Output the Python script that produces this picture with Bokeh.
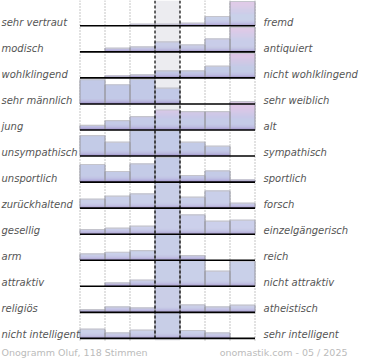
from bokeh.plotting import figure
from bokeh.models import Range1d
from bokeh.core.properties import value
from bokeh.embed import file_html
from bokeh.resources import INLINE

left_labels = ["sehr vertraut", "modisch", "wohlklingend", "sehr männlich", " jung",
               "unsympathisch", "unsportlich", "zurückhaltend", "gesellig", "arm",
               "attraktiv", "religiös", "nicht intelligent"]
right_labels = ["fremd", "antiquiert", "nicht wohlklingend", "sehr weiblich", "alt",
                "sympathisch", "sportlich", "forsch", "einzelgängerisch", "reich",
                "nicht attraktiv", "atheistisch", "sehr intelligent"]

row_vertraut = [0, 0, 1.6, 1.6, 2.6, 9.3, 24.3]
row_modisch = [0, 3.7, 5.0, 10.0, 7.0, 13.0, 24.7]
row_wohlklingend = [0, 2.1, 3.1, 7.1, 7.1, 11.7, 24.7]
row_maennlich = [24.2, 19.2, 24.8, 15.8, 0, 0, 0]
row_jung = [4.7, 9.3, 13.3, 20.0, 18.3, 18.3, 28.3]
row_sympathisch = [20.5, 13.9, 25.5, 25.5, 13.9, 9.9, 0]
row_sportlich = [17.6, 10.6, 18.3, 25.0, 6.6, 11.3, 2.3]
row_forsch = [9.0, 12.0, 14.3, 26.0, 11.0, 17.3, 5.0]
row_gesellig = [4.7, 6.0, 8.0, 26.0, 19.4, 13.0, 14.0]
row_arm = [6.4, 8.0, 9.7, 26.0, 4.7, 0, 0]
row_attraktiv = [0, 3.5, 6.1, 26.0, 26.0, 15.1, 25.1]
row_religioes = [2.8, 5.5, 4.5, 26.0, 7.5, 5.5, 7.2]
row_intelligent = [9.2, 5.6, 8.2, 26.0, 7.9, 5.6, 0]

rows = [row_vertraut, row_modisch, row_wohlklingend, row_maennlich, row_jung,
        row_sympathisch, row_sportlich, row_forsch, row_gesellig, row_arm,
        row_attraktiv, row_religioes, row_intelligent]

footer_left = "Onogramm Oluf, 118 Stimmen"
footer_right = "onomastik.com - 05 / 2025"

# ---- layout (pixels) ----
W, H = 370, 360
LEFT_PX = 79.5
COL_PX = 25.0
TOP_PX = 25.3
ROW = 26.05
NCOL = 7
pink_rows = {0, 1, 2, 4}

p = figure(width=W, height=H,
           x_range=Range1d(-LEFT_PX / COL_PX, (W - LEFT_PX) / COL_PX),
           y_range=Range1d(TOP_PX - H, TOP_PX),
           output_backend="svg", toolbar_location=None, min_border=0,
           outline_line_color=None, background_fill_color="white",
           border_fill_color="white")
p.axis.visible = False
p.grid.visible = False

nrows = len(rows)
y_top = TOP_PX
y_bot = -ROW * (nrows - 1) - 2

# middle column shading
p.quad(left=[3], right=[4], top=[y_top], bottom=[y_bot],
       fill_color="#ececf0", line_color=None)

# dotted separators
dx = [0, 1, 2, 5, 6, 7]
p.segment(x0=dx, x1=dx, y0=[y_top] * len(dx), y1=[y_bot] * len(dx),
          line_color="#8a8a8a", line_dash="1 2", line_width=1)


def hex2rgb(h):
    h = h.lstrip("#")
    return tuple(int(h[i:i + 2], 16) for i in (0, 2, 4))


def mix(a, b, t):
    a, b = hex2rgb(a), hex2rgb(b)
    return "#%02x%02x%02x" % tuple(int(round(a[i] + (b[i] - a[i]) * t)) for i in range(3))


def grad(h, pink):
    if h < 3:
        return mix("#9c8cc6", "#bdbde2", h / 3)
    if h < 6:
        return mix("#bdbde2", "#c5cbe8", (h - 3) / 3)
    if pink and h > 11:
        return mix("#c5cbe8", "#dec6e6", min(1.0, (h - 11) / 12))
    return "#c5cbe8"


sl, sr, sb, st, sc = [], [], [], [], []
ex0, ex1, ey0, ey1 = [], [], [], []
tx0, tx1, ty = [], [], []
for r, vals in enumerate(rows):
    base = -ROW * r
    for c, v in enumerate(vals):
        if v <= 0:
            continue
        k = 0.0
        while k < v:
            t = min(k + 1.0, v)
            sl.append(c); sr.append(c + 1); sb.append(base + k); st.append(base + t)
            sc.append(grad((k + t) / 2, r in pink_rows))
            k = t
        ex0 += [c, c + 1]; ex1 += [c, c + 1]
        ey0 += [base, base]; ey1 += [base + v, base + v]
        tx0.append(c); tx1.append(c + 1); ty.append(base + v)

p.quad(left=sl, right=sr, bottom=sb, top=st, fill_color=sc, line_color=sc, line_width=0.3)
p.segment(x0=tx0, x1=tx1, y0=ty, y1=ty, line_color="#c4c4cc", line_width=1.2)
p.segment(x0=ex0, x1=ex1, y0=ey0, y1=ey1, line_color="#9a9aa2", line_width=1)

# baselines
bys = [-ROW * r for r in range(nrows)]
p.segment(x0=[0] * nrows, x1=[NCOL] * nrows, y0=bys, y1=bys,
          line_color="#000000", line_width=1.6)

# dashed middle lines
p.segment(x0=[3, 4], x1=[3, 4], y0=[y_top] * 2, y1=[y_bot] * 2,
          line_color="#000000", line_dash="3 2", line_width=1.2)

# labels
lab_y = [-ROW * r + 3.5 for r in range(nrows)]
p.text(x=[(1 - LEFT_PX) / COL_PX] * nrows, y=lab_y, text=left_labels,
       text_font=value("DejaVu Sans"), text_font_style="italic",
       text_font_size="10px", text_color="#555555", text_baseline="alphabetic",
       text_align="left")
p.text(x=[(263 - LEFT_PX) / COL_PX] * nrows, y=lab_y, text=right_labels,
       text_font=value("DejaVu Sans"), text_font_style="italic",
       text_font_size="10px", text_color="#555555", text_baseline="alphabetic",
       text_align="left")

# footer
fy = TOP_PX - 352
p.text(x=[(1 - LEFT_PX) / COL_PX], y=[fy], text=[footer_left],
       text_font=value("DejaVu Sans"), text_font_size="9.5px", text_color="#bbbbbb",
       text_baseline="middle", text_align="left")
p.text(x=[(347 - LEFT_PX) / COL_PX], y=[fy], text=[footer_right],
       text_font=value("DejaVu Sans"), text_font_size="9.5px", text_color="#bbbbbb",
       text_baseline="middle", text_align="right")

open("out.html", "w").write(file_html(p, INLINE))
